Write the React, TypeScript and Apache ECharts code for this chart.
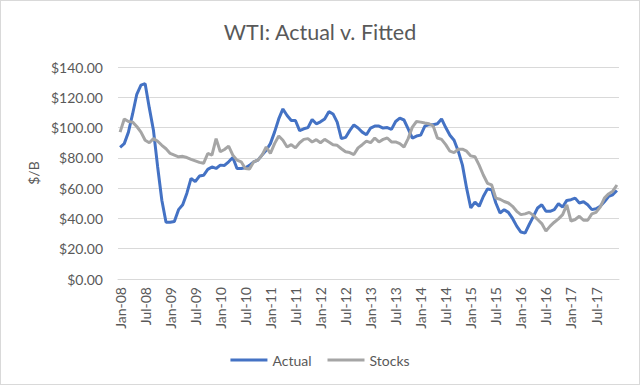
import React, { useEffect, useRef } from "react";
import * as echarts from "echarts";

const monthNames = ["Jan", "Feb", "Mar", "Apr", "May", "Jun", "Jul", "Aug", "Sep", "Oct", "Nov", "Dec"];
const years = ["08", "09", "10", "11", "12", "13", "14", "15", "16", "17"];
const categories: string[] = years.flatMap((y) => monthNames.map((m) => `${m}-${y}`));

const actual = [
  87, 89.4, 97, 109, 122, 128, 129, 113, 98, 74, 52, 37.5,
  37.5, 38, 45.8, 49, 56.7, 66.5, 64.3, 68, 68.5, 72.4, 74, 73,
  75.2, 75, 77.4, 80.2, 73, 73, 73.5, 75, 77.4, 78.5, 81.8, 85,
  89.4, 97, 105.7, 112.3, 108, 104.7, 104.7, 98, 99.2, 100, 105.3, 102.5,
  103.8, 105.7, 110.5, 109, 103.6, 92.7, 93.5, 98, 101.8, 99.7, 97, 95.3,
  99.7, 101, 101, 99.7, 100, 98.8, 104, 106.2, 105, 99.2, 93.1, 94.4,
  95, 101, 101.9, 101.9, 102.5, 105.7, 100, 94.9, 91.6, 84.4, 75.2, 60,
  46.9, 50.8, 48, 54.5, 59.5, 59, 50.2, 43.6, 45.8, 44, 40, 34.9,
  31, 30.3, 36, 41.4, 46.9, 49, 44.7, 44.7, 45.8, 49.7, 47.5, 51.9,
  52.4, 53.4, 50.2, 51, 49, 45.8, 46.4, 48, 51, 54.5, 55.6, 58.4,
];

const stocks = [
  97, 105.7, 104, 103.6, 100.7, 97, 91.6, 90, 92.7, 91, 88.3, 86,
  82.9, 81.8, 80.7, 81, 80.2, 79, 78, 77, 76.4, 82.9, 81.8, 92.7,
  84, 85.5, 87.7, 81.8, 78.5, 77.4, 73, 72.6, 77.4, 78.5, 81.8, 87.2,
  82.9, 89.4, 94.4, 91.6, 87.2, 88.7, 86.6, 90, 92.2, 92.7, 90.5, 92,
  90, 92.2, 90.5, 88.7, 88.3, 86, 84, 83.5, 82.2, 86.6, 88.7, 91,
  90, 93.1, 90.5, 92.2, 93.1, 90.5, 90.5, 89.4, 87.2, 92.7, 100.3, 104,
  103.6, 103, 102.5, 101, 93.1, 92.2, 88.7, 84.4, 83.5, 85.7, 85.7, 84.4,
  81.3, 80.7, 75.2, 68.7, 63.2, 62.1, 53.4, 52.7, 51.2, 50.2, 48, 44.7,
  42.5, 43, 44, 42, 39.3, 36.6, 31.6, 34.9, 37.5, 39.7, 42.5, 49,
  38.2, 39.3, 41.4, 38.8, 38.8, 43, 44, 47.5, 53.4, 56.2, 58, 62.1,
];

const FONT = "Lato";
const TEXT = "#595959";

export default function App() {
  const ref = useRef<HTMLDivElement>(null);
  useEffect(() => {
    if (!ref.current) return;
    const chart = echarts.init(ref.current, null, { renderer: "svg" });
    chart.setOption({
      animation: false,
      backgroundColor: "#ffffff",
      textStyle: { fontFamily: FONT },
      title: {
        text: "WTI: Actual v. Fitted",
        left: "center",
        top: 15,
        textStyle: { fontFamily: FONT, fontSize: 21.5, fontWeight: "normal", color: TEXT },
      },
      legend: {
        top: 347,
        left: "center",
        icon: "rect",
        itemWidth: 37,
        itemHeight: 3,
        itemGap: 16,
        textStyle: { fontFamily: FONT, fontSize: 14, color: TEXT },
        data: ["Actual", "Stocks"],
      },
      grid: { left: 117, right: 20, top: 66, bottom: 105, containLabel: false },
      xAxis: {
        type: "category",
        data: categories,
        boundaryGap: true,
        axisLine: { lineStyle: { color: "#d9d9d9" } },
        axisTick: { show: false },
        axisLabel: {
          interval: 5,
          rotate: 90,
          fontFamily: FONT,
          fontSize: 14,
          color: TEXT,
          margin: 8,
        },
      },
      yAxis: {
        type: "value",
        min: 0,
        max: 140,
        interval: 20,
        name: "$/B",
        nameLocation: "middle",
        nameGap: 76,
        nameRotate: 90,
        nameTextStyle: { fontFamily: FONT, fontSize: 14, color: TEXT },
        axisLine: { show: false },
        axisTick: { show: false },
        splitLine: { lineStyle: { color: "#d9d9d9", width: 1 } },
        axisLabel: {
          fontFamily: FONT,
          fontSize: 14,
          color: TEXT,
          margin: 15,
          formatter: (v: number) => "$" + v.toFixed(2),
        },
      },
      series: [
        {
          name: "Actual",
          type: "line",
          data: actual,
          symbol: "none",
          lineStyle: { color: "#4472C4", width: 3 },
          itemStyle: { color: "#4472C4" },
        },
        {
          name: "Stocks",
          type: "line",
          data: stocks,
          symbol: "none",
          lineStyle: { color: "#A5A5A5", width: 3 },
          itemStyle: { color: "#A5A5A5" },
        },
      ],
    });
    return () => chart.dispose();
  }, []);
  return (
    <div
      style={{
        position: "fixed",
        left: 0,
        top: 0,
        width: 640,
        height: 385,
        boxSizing: "border-box",
        border: "1px solid #d9d9d9",
        background: "#fff",
      }}
    >
      <div ref={ref} style={{ width: 638, height: 383 }} />
    </div>
  );
}
